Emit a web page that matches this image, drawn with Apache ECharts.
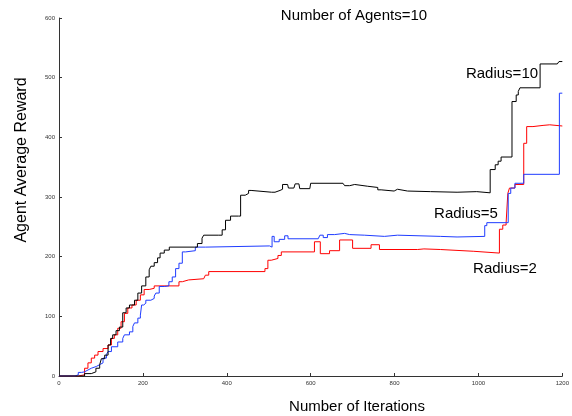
<!DOCTYPE html>
<html>
<head>
<meta charset="utf-8">
<script src="https://cdn.jsdelivr.net/npm/echarts@6/dist/echarts.min.js"></script>
<style>
  html, body { margin: 0; padding: 0; background: #fff; }
  #chart { width: 572px; height: 416px; }
</style>
</head>
<body>
<div id="chart"></div>
<script>
// [iteration, reward], value holds until next point
var radius10 = [[0,0],[45,0],[61,4],[77,7],[88,13],[97,19],[101,29],[109,35],[117,52],[123,63],[128,69],[136,76],[144,82],[152,106],[160,114],[168,119],[180,127],[188,139],[197,151],[207,166],[215,178],[219,184],[227,190],[235,198],[241,206],[251,211],[263,216],[324,216],[330,222],[341,231],[345,236],[381,236],[389,245],[397,261],[409,268],[428,268],[433,303],[444,306],[452,311],[458,308],[507,308],[515,311],[527,313],[533,321],[545,321],[547,315],[560,315],[563,322],[572,322],[574,314],[598,314],[600,323],[677,323],[681,319],[693,321],[705,318],[736,316],[760,312],[768,310],[799,313],[807,310],[831,309],[886,308],[949,309],[996,307],[1028,346],[1040,354],[1047,360],[1054,367],[1080,460],[1090,471],[1095,477],[1099,483],[1147,523],[1188,525],[1192,527],[1200,527]];
var radius5 = [[0,0],[30,0],[38,2],[46,6],[54,7],[61,10],[69,13],[77,16],[89,19],[97,22],[105,30],[113,36],[117,41],[125,49],[140,57],[152,63],[156,69],[168,74],[176,83],[180,89],[188,97],[194,102],[197,119],[202,122],[207,127],[219,130],[227,134],[231,139],[239,150],[251,151],[262,158],[270,166],[278,180],[286,189],[294,208],[302,210],[325,216],[349,218],[502,216],[508,234],[513,225],[525,229],[538,235],[546,230],[618,230],[622,236],[630,232],[640,237],[657,239],[681,237],[693,236],[728,234],[776,236],[807,234],[909,233],[949,234],[1015,252],[1020,257],[1071,306],[1077,315],[1087,323],[1108,338],[1193,474],[1200,474]];
var radius2 = [[0,0],[40,0],[46,2],[61,13],[69,22],[77,30],[85,35],[93,41],[105,46],[117,52],[125,63],[132,69],[140,80],[148,91],[156,105],[164,114],[174,119],[184,127],[194,136],[203,145],[215,147],[227,151],[286,158],[294,161],[309,163],[345,165],[349,169],[357,175],[491,180],[498,194],[506,197],[522,202],[530,208],[609,225],[623,205],[645,210],[669,228],[700,214],[744,220],[764,212],[855,213],[870,212],[909,209],[989,206],[1050,246],[1058,253],[1066,257],[1070,306],[1074,315],[1087,321],[1108,390],[1115,418],[1130,420],[1154,421],[1170,419],[1200,419]];

var seriesNames = ['Radius=10', 'Radius=5', 'Radius=2'];

var chart = echarts.init(document.getElementById('chart'));
var font = 'Liberation Sans, Arial, Helvetica, sans-serif';

function lineSeries(name, data, color) {
    return {
        name: name,
        type: 'line',
        step: 'end',
        data: data,
        showSymbol: false,
        silent: true,
        lineStyle: { color: color, width: 1 }
    };
}

function label(text, x, y, rot, size) {
    return {
        type: 'text',
        x: x,
        y: y,
        rotation: rot || 0,
        style: { text: text, font: (size || 15) + 'px ' + font, fill: '#000', align: 'center', verticalAlign: 'middle' }
    };
}

var axisStyle = {
    axisLine: { show: true, lineStyle: { color: '#333', width: 1 } },
    axisTick: { show: true, inside: true, length: 3, lineStyle: { color: '#333' } },
    axisLabel: { fontSize: 6, color: '#333', fontFamily: font, margin: 4, formatter: function (v) { return String(v); } },
    splitLine: { show: false }
};

var option = {
    animation: false,
    textStyle: { fontFamily: font },
    grid: { left: 59, right: 6, top: 18, bottom: 40 },
    xAxis: Object.assign({ type: 'value', min: 0, max: 1200, interval: 200 }, axisStyle),
    yAxis: Object.assign({ type: 'value', min: 0, max: 600, interval: 100 }, axisStyle),
    graphic: [
        label('Number of Agents=10', 354, 16),
        label('Number of Iterations', 357, 407),
        label('Agent Average Reward', 22, 160, Math.PI / 2, 16),
        label(seriesNames[0], 502, 74),
        label(seriesNames[1], 466, 214),
        label(seriesNames[2], 505, 269)
    ],
    series: [
        lineSeries(seriesNames[2], radius2, '#ff0000'),
        lineSeries(seriesNames[1], radius5, '#1f3cff'),
        lineSeries(seriesNames[0], radius10, '#000000')
    ]
};

chart.setOption(option);
</script>
</body>
</html>
